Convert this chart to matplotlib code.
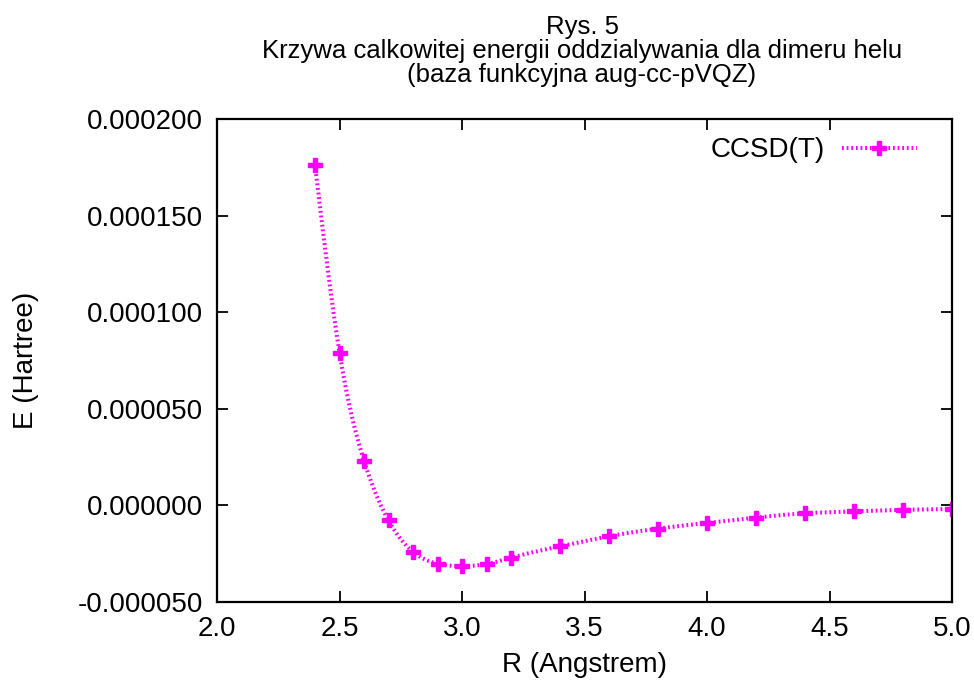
import numpy as np
import matplotlib
matplotlib.use('Agg')
import matplotlib.pyplot as plt
from matplotlib.ticker import FormatStrFormatter

#---------------------------------------------------DATA---------------------------------------------------------
R=[2.4,2.5,2.6,2.7,2.8,2.9,3.0,3.1,3.2,3.4,3.6,3.8,4.0,4.2,4.4,4.6,4.8,5.0]
E=[1.762e-4,7.91e-5,2.31e-5,-7.8e-6,-2.40e-5,-3.02e-5,-3.14e-5,-3.04e-5,-2.71e-5,
   -2.12e-5,-1.60e-5,-1.20e-5,-9.1e-6,-6.3e-6,-4.1e-6,-3.1e-6,-2.3e-6,-1.9e-6]
etykieta='CCSD(T)'
tytul=['Rys. 5','Krzywa calkowitej energii oddzialywania dla dimeru helu','(baza funkcyjna aug-cc-pVQZ)']
xticks=[2.0,2.5,3.0,3.5,4.0,4.5,5.0]
yticks=[-0.00005,0.0,0.00005,0.0001,0.00015,0.0002]

#------------------------------------natural cubic spline (like gnuplot smooth csplines)-------------------------
def cspline(x,y,n=600):
	x=np.asarray(x,float); y=np.asarray(y,float)
	k=len(x); h=np.diff(x)
	A=np.zeros((k,k)); b=np.zeros(k)
	A[0,0]=1; A[-1,-1]=1
	for i in range(1,k-1):
		A[i,i-1]=h[i-1]; A[i,i]=2*(h[i-1]+h[i]); A[i,i+1]=h[i]
		b[i]=3*((y[i+1]-y[i])/h[i]-(y[i]-y[i-1])/h[i-1])
	c=np.linalg.solve(A,b)
	xs=np.linspace(x[0],x[-1],n)
	j=np.clip(np.searchsorted(x,xs)-1,0,k-2)
	d=xs-x[j]
	bb=(y[j+1]-y[j])/h[j]-h[j]*(2*c[j]+c[j+1])/3
	dd=(c[j+1]-c[j])/(3*h[j])
	return xs,y[j]+bb*d+c[j]*d**2+dd*d**3

plt.rcParams['font.family']=['Liberation Sans','DejaVu Sans']
fs=20

fig=plt.figure(figsize=(9.74,6.86),dpi=100)
ax=fig.add_axes([217/974,1-602/686,(952-217)/974,(602-119)/686])

kol='#ff00ff'
styl=(0,(0.45,0.7))
xs,ys=cspline(R,E)
ax.plot(xs,ys,color=kol,linewidth=2.9,linestyle=styl)
ax.plot(R,E,'P',color=kol,markersize=10,markeredgewidth=1,markeredgecolor=kol)
# legend handle
h,=ax.plot([],[],color=kol,linewidth=2.9,linestyle=styl,marker='P',markersize=10,markeredgewidth=1,markeredgecolor=kol)
ax.legend([h],[etykieta],loc='upper right',bbox_to_anchor=(0.967,0.985),frameon=False,
          markerfirst=False,handlelength=2.7,handletextpad=0.6,fontsize=fs,borderaxespad=0)

ax.set_xlim(2.0,5.0)
ax.set_ylim(-0.00005,0.0002)
ax.set_xticks(xticks)
ax.set_yticks(yticks)
ax.xaxis.set_major_formatter(FormatStrFormatter('%.1f'))
ax.yaxis.set_major_formatter(FormatStrFormatter('%.6f'))
ax.tick_params(direction='in',length=8,width=1.3,top=True,right=True,labelsize=fs,pad=10)
for s in ax.spines.values():
	s.set_linewidth(1.6)

ax.set_xlabel('R (Angstrem)',fontsize=fs,labelpad=7)
ax.set_ylabel('E (Hartree)',fontsize=fs,labelpad=28)

for t,yy in zip(tytul,[27,51,75]):
	fig.text(582/974,1-yy/686,t,ha='center',va='center',fontsize=18.5)

plt.savefig('out.png',dpi=100)
